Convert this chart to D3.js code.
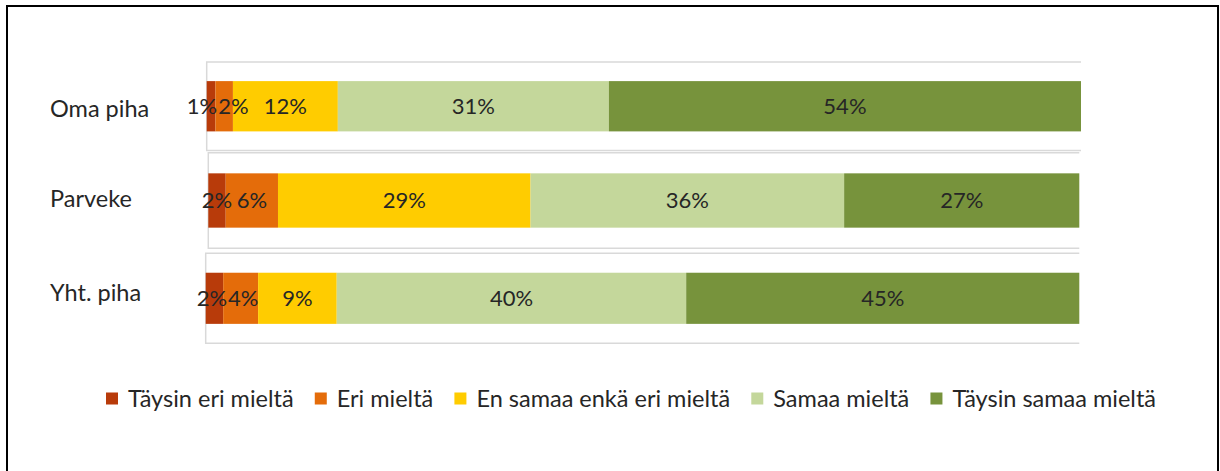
<!DOCTYPE html>
<html>
<head>
<meta charset="utf-8">
<script src="https://cdn.jsdelivr.net/npm/d3@7"></script>
<style>
  body { margin: 0; background: #fff; }
  svg { display: block; font-family: Lato, "Liberation Sans", sans-serif; }
</style>
</head>
<body>
<div id="chart"></div>
<script>
const categories = ["Oma piha", "Parveke", "Yht. piha"];
const series = ["Täysin eri mieltä", "Eri mieltä", "En samaa enkä eri mieltä", "Samaa mieltä", "Täysin samaa mieltä"];
const omaPiha = [1, 2, 12, 31, 54];
const parveke = [2, 6, 29, 36, 27];
const yhtPiha = [2, 4, 9, 40, 45];
const values = [omaPiha, parveke, yhtPiha];
const colors = ["#b83b0a", "#e46c0a", "#ffcc00", "#c4d79b", "#77933c"];

// the three bars sit in slightly offset boxes
const panels = [
  { x0: 206.7, x1: 1081, top: 62, bottom: 150.5, labelY: 108.5 },
  { x0: 208.3, x1: 1079.3, top: 152.7, bottom: 248.3, labelY: 199 },
  { x0: 205.7, x1: 1079.3, top: 253.3, bottom: 343.3, labelY: 293 }
];

const W = 1220, H = 471;
const LABEL_FONT = 23.5, VALUE_FONT = 22, LEGEND_FONT = 23.5;

const svg = d3.select("#chart").append("svg").attr("width", W).attr("height", H);

svg.append("rect")
  .attr("x", 7).attr("y", 6)
  .attr("width", 1211).attr("height", 480)
  .attr("fill", "none").attr("stroke", "#000").attr("stroke-width", 2);

const color = d3.scaleOrdinal().domain(series).range(colors);

categories.forEach((cat, i) => {
  const p = panels[i];
  const x = d3.scaleLinear().domain([0, d3.sum(values[i])]).range([p.x0, p.x1]);
  const y = d3.scaleBand().domain([cat]).range([p.top, p.bottom]).paddingOuter(0.38);

  const g = svg.append("g").attr("class", "panel");

  // box lines
  g.append("path")
    .attr("d", `M${p.x1},${p.top}H${p.x0}V${p.bottom}H${p.x1}`)
    .attr("fill", "none").attr("stroke", "#d9d9d9").attr("stroke-width", 1.5);

  let acc = 0;
  const segs = values[i].map((v, j) => {
    const s = { key: series[j], v: v, a: acc, b: acc + v };
    acc += v;
    return s;
  });

  g.selectAll("rect.seg")
    .data(segs)
    .enter()
    .append("rect")
    .attr("class", "seg")
    .attr("x", (d) => x(d.a))
    .attr("y", y(cat))
    .attr("width", (d) => x(d.b) - x(d.a))
    .attr("height", y.bandwidth())
    .attr("fill", (d) => color(d.key));

  const labels = g.selectAll("text.val")
    .data(segs)
    .enter()
    .append("text")
    .attr("class", "val")
    .attr("x", (d) => (x(d.a) + x(d.b)) / 2)
    .attr("y", y(cat) + y.bandwidth() / 2)
    .attr("dy", "0.34em")
    .attr("text-anchor", "middle")
    .attr("font-size", VALUE_FONT)
    .attr("fill", "#262626")
    .text((d) => d.v + "%");

  // push apart labels that would overlap
  const nodes = labels.nodes();
  for (let k = 0; k < nodes.length - 1; k++) {
    const a = nodes[k], b = nodes[k + 1];
    const ax = +a.getAttribute("x"), bx = +b.getAttribute("x");
    const need = (a.getComputedTextLength() + b.getComputedTextLength()) / 2 + 1;
    if (bx - ax < need) {
      const shift = (need - (bx - ax)) / 2;
      a.setAttribute("x", ax - shift);
      b.setAttribute("x", bx + shift);
    }
  }

  svg.append("text")
    .attr("x", 50)
    .attr("y", p.labelY)
    .attr("dy", "0.36em")
    .attr("font-size", LABEL_FONT)
    .attr("fill", "#262626")
    .text(cat);
});

// legend
const legend = svg.append("g").attr("class", "legend");
const legendLeft = 106, legendRight = 1156, legendY = 398.5, sq = 12, sqGap = 10;
const items = series.map((s) => {
  const g = legend.append("g");
  g.append("rect").attr("width", sq).attr("height", sq).attr("y", -sq / 2).attr("fill", color(s));
  const t = g.append("text")
    .attr("x", sq + sqGap)
    .attr("dy", "0.36em")
    .attr("font-size", LEGEND_FONT)
    .attr("fill", "#262626")
    .text(s);
  return { g: g, w: sq + sqGap + t.node().getComputedTextLength() };
});
const spacing = (legendRight - legendLeft - d3.sum(items, (d) => d.w)) / (items.length - 1);
let lx = legendLeft;
items.forEach((it) => {
  it.g.attr("transform", `translate(${lx},${legendY})`);
  lx += it.w + spacing;
});
</script>
</body>
</html>
